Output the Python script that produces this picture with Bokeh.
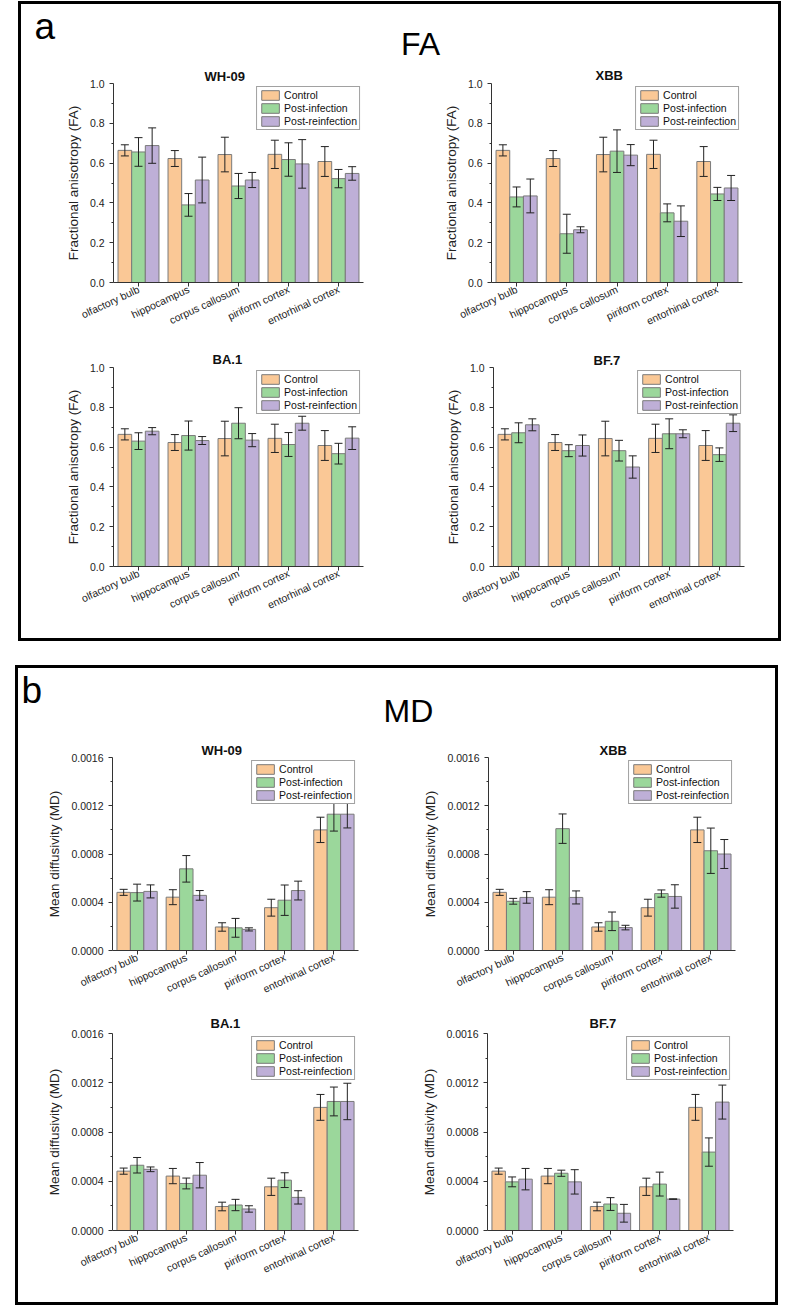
import math
from bokeh.plotting import figure
from bokeh.layouts import column, row
from bokeh.models import (FactorRange, Range1d, FixedTicker, NumeralTickFormatter, Whisker,
                          TeeHead, ColumnDataSource, Legend, LegendItem, Spacer, Label)
from bokeh.transform import dodge
from bokeh.embed import file_html
from bokeh.resources import INLINE

FONT = "Liberation Sans"

# ---------------- data ----------------
categories = ["olfactory bulb", "hippocampus", "corpus callosum", "piriform cortex", "entorhinal cortex"]
series = ["Control", "Post-infection", "Post-reinfection"]
colors = ["#FAC896", "#9BD79B", "#BEAFD7"]

# Fractional anisotropy (FA)
fa_control = [0.664, 0.623, 0.643, 0.644, 0.608]
fa_control_err = [0.028, 0.040, 0.087, 0.071, 0.075]

fa_wh09_inf = [0.656, 0.390, 0.485, 0.618, 0.522]
fa_wh09_inf_err = [0.072, 0.057, 0.063, 0.084, 0.046]
fa_wh09_re = [0.688, 0.515, 0.515, 0.596, 0.548]
fa_wh09_re_err = [0.089, 0.115, 0.038, 0.122, 0.034]

fa_xbb_inf = [0.430, 0.245, 0.660, 0.350, 0.445]
fa_xbb_inf_err = [0.050, 0.098, 0.107, 0.045, 0.033]
fa_xbb_re = [0.435, 0.265, 0.640, 0.308, 0.475]
fa_xbb_re_err = [0.085, 0.015, 0.053, 0.077, 0.063]

fa_ba1_inf = [0.630, 0.658, 0.720, 0.613, 0.567]
fa_ba1_inf_err = [0.042, 0.073, 0.078, 0.060, 0.052]
fa_ba1_re = [0.680, 0.633, 0.635, 0.720, 0.645]
fa_ba1_re_err = [0.018, 0.020, 0.033, 0.035, 0.057]

fa_bf7_inf = [0.672, 0.582, 0.582, 0.667, 0.562]
fa_bf7_inf_err = [0.050, 0.030, 0.052, 0.075, 0.034]
fa_bf7_re = [0.712, 0.608, 0.500, 0.667, 0.720]
fa_bf7_re_err = [0.030, 0.053, 0.056, 0.020, 0.042]

# Mean diffusivity (MD)
md_control = [0.000482, 0.000442, 0.000195, 0.000355, 0.001000]
md_control_err = [0.000025, 0.000062, 0.000035, 0.000070, 0.000105]

md_wh09_inf = [0.000480, 0.000677, 0.000188, 0.000417, 0.001130]
md_wh09_inf_err = [0.000070, 0.000110, 0.000078, 0.000126, 0.000140]
md_wh09_re = [0.000490, 0.000457, 0.000175, 0.000497, 0.001130]
md_wh09_re_err = [0.000054, 0.000040, 0.000013, 0.000078, 0.000114]

md_xbb_inf = [0.000408, 0.001010, 0.000242, 0.000472, 0.000827]
md_xbb_inf_err = [0.000024, 0.000122, 0.000077, 0.000030, 0.000188]
md_xbb_re = [0.000440, 0.000440, 0.000190, 0.000448, 0.000800]
md_xbb_re_err = [0.000048, 0.000054, 0.000019, 0.000097, 0.000120]

md_ba1_inf = [0.000530, 0.000382, 0.000207, 0.000409, 0.001048]
md_ba1_inf_err = [0.000063, 0.000044, 0.000046, 0.000060, 0.000117]
md_ba1_re = [0.000497, 0.000449, 0.000175, 0.000269, 0.001048]
md_ba1_re_err = [0.000019, 0.000103, 0.000026, 0.000054, 0.000148]

md_bf7_inf = [0.000395, 0.000465, 0.000215, 0.000377, 0.000637]
md_bf7_inf_err = [0.000040, 0.000025, 0.000052, 0.000097, 0.000115]
md_bf7_re = [0.000417, 0.000395, 0.000140, 0.000255, 0.001043]
md_bf7_re_err = [0.000087, 0.000099, 0.000072, 0.000002, 0.000138]

fa_ticks = [0.0, 0.2, 0.4, 0.6, 0.8, 1.0]
fa_minor = [0.1, 0.3, 0.5, 0.7, 0.9]
md_ticks = [0.0, 0.0004, 0.0008, 0.0012, 0.0016]
md_minor = [0.0002, 0.0006, 0.0010, 0.0014]

BAR_W = 0.273
OFFSETS = [-BAR_W, 0.0, BAR_W]


def subplot(title, vals, errs, ylabel, ymax, ticks, minor, fmt,
            width, height, left, right, top, bottom, title_off, title_standoff):
    p = figure(x_range=FactorRange(factors=categories, range_padding=0, factor_padding=0),
               y_range=Range1d(0, ymax), width=width, height=height,
               min_border_left=left, min_border_right=right,
               min_border_top=top, min_border_bottom=bottom,
               output_backend="svg", toolbar_location=None)
    p.outline_line_color = None
    p.xgrid.visible = False
    p.ygrid.visible = False
    p.background_fill_color = "white"
    p.border_fill_color = "white"

    items = []
    for name, v, e, off, col in zip(series, vals, errs, OFFSETS, colors):
        src = ColumnDataSource(dict(cat=categories, val=v,
                                    upper=[a + b for a, b in zip(v, e)],
                                    lower=[a - b for a, b in zip(v, e)]))
        r = p.vbar(x=dodge("cat", off, range=p.x_range), top="val", width=BAR_W,
                   source=src, fill_color=col, line_color="#7a7a7a", line_width=1)
        w = Whisker(base=dodge("cat", off, range=p.x_range), upper="upper", lower="lower",
                    source=src, line_color="#222222", line_width=1, level="annotation",
                    upper_head=TeeHead(size=8, line_color="#222222", line_width=1),
                    lower_head=TeeHead(size=8, line_color="#222222", line_width=1))
        p.add_layout(w)
        items.append(LegendItem(label=name, renderers=[r]))

    leg = Legend(items=items, location="top_right", border_line_color="#444444",
                 border_line_width=1, background_fill_color="white", background_fill_alpha=1,
                 label_text_font=FONT, label_text_font_size="10.5px", label_text_color="#111111",
                 glyph_width=22, glyph_height=12, label_height=12, spacing=1, padding=2,
                 margin=3, label_standoff=3)
    p.add_layout(leg)

    p.title.text = title
    p.title.align = "left"
    p.title.offset = title_off
    p.title.standoff = title_standoff
    p.title.text_font = FONT
    p.title.text_font_size = "13px"
    p.title.text_font_style = "bold"
    p.title.text_color = "#111111"

    xa = p.xaxis[0]
    xa.major_label_orientation = math.radians(25)
    xa.major_label_text_font = FONT
    xa.major_label_text_font_size = "10.5px"
    xa.major_label_text_color = "#222222"
    xa.major_label_standoff = 2
    xa.axis_line_color = "#333333"
    xa.major_tick_line_color = "#333333"
    xa.major_tick_out = 4
    xa.major_tick_in = 0

    ya = p.yaxis[0]
    ya.ticker = FixedTicker(ticks=ticks, minor_ticks=minor)
    ya.formatter = NumeralTickFormatter(format=fmt)
    ya.axis_label = ylabel
    ya.axis_label_text_font = FONT
    ya.axis_label_text_font_style = "normal"
    ya.axis_label_text_font_size = "13.5px"
    ya.axis_label_text_color = "#222222"
    ya.axis_label_standoff = 6
    ya.major_label_text_font = FONT
    ya.major_label_text_font_size = "10.5px"
    ya.major_label_text_color = "#222222"
    ya.major_label_standoff = 5
    ya.axis_line_color = "#333333"
    ya.major_tick_line_color = "#333333"
    ya.minor_tick_line_color = "#333333"
    ya.major_tick_out = 4
    ya.major_tick_in = 0
    ya.minor_tick_out = 2
    ya.minor_tick_in = 0
    return p


def header(w, h, letter, lx, ly, lsize, word, wx, wy, wsize):
    p = figure(width=w, height=h, x_range=Range1d(0, w), y_range=Range1d(0, h),
               min_border=0, toolbar_location=None, output_backend="svg", title=None,
               x_axis_location=None, y_axis_location=None)
    p.grid.visible = False
    p.outline_line_color = None
    p.add_layout(Label(x=lx, y=ly, text=letter, text_font=FONT, text_font_size=lsize,
                       text_baseline="bottom", text_align="left", text_color="black"))
    p.add_layout(Label(x=wx, y=wy, text=word, text_font=FONT, text_font_size=wsize,
                       text_baseline="bottom", text_align="center", text_color="black"))
    return p


def strip(w, h):
    return Spacer(width=w, height=h, styles={"background-color": "black"})


def panel(head, r1, r2):
    inner = column(head, row(*r1), row(*r2))
    return column(strip(763, 3), row(strip(3, 634), inner, strip(3, 634)), strip(763, 3))


FA_LAB = "Fractional anisotropy (FA)"
MD_LAB = "Mean diffusivity (MD)"

# panel a: header 60, row1 280, row2 294
fa_wh = subplot("WH-09", [fa_control, fa_wh09_inf, fa_wh09_re],
                [fa_control_err, fa_wh09_inf_err, fa_wh09_re_err], FA_LAB, 1.0, fa_ticks, fa_minor,
                "0.0", 400, 280, 92, 58, 18, 62, 91, 0)
fa_xbb = subplot("XBB", [fa_control, fa_xbb_inf, fa_xbb_re],
                 [fa_control_err, fa_xbb_inf_err, fa_xbb_re_err], FA_LAB, 1.0, fa_ticks, fa_minor,
                 "0.0", 357, 280, 70, 36, 18, 62, 104, 2)
fa_ba1 = subplot("BA.1", [fa_control, fa_ba1_inf, fa_ba1_re],
                 [fa_control_err, fa_ba1_inf_err, fa_ba1_re_err], FA_LAB, 1.0, fa_ticks, fa_minor,
                 "0.0", 400, 294, 92, 58, 22, 72, 99, 2)
fa_bf7 = subplot("BF.7", [fa_control, fa_bf7_inf, fa_bf7_re],
                 [fa_control_err, fa_bf7_inf_err, fa_bf7_re_err], FA_LAB, 1.0, fa_ticks, fa_minor,
                 "0.0", 357, 294, 72, 34, 23, 71, 100, 0)

# panel b: header 61, row1 281, row2 292
md_wh = subplot("WH-09", [md_control, md_wh09_inf, md_wh09_re],
                [md_control_err, md_wh09_inf_err, md_wh09_re_err], MD_LAB, 0.0016, md_ticks, md_minor,
                "0.0000", 400, 281, 94, 60, 23, 60, 89, 0)
md_xbb = subplot("XBB", [md_control, md_xbb_inf, md_xbb_re],
                 [md_control_err, md_xbb_inf_err, md_xbb_re_err], MD_LAB, 0.0016, md_ticks, md_minor,
                 "0.0000", 357, 281, 70, 40, 28, 54, 111, 0)
md_ba1 = subplot("BA.1", [md_control, md_ba1_inf, md_ba1_re],
                 [md_control_err, md_ba1_inf_err, md_ba1_re_err], MD_LAB, 0.0016, md_ticks, md_minor,
                 "0.0000", 400, 292, 94, 60, 22, 72, 98, 6)
md_bf7 = subplot("BF.7", [md_control, md_bf7_inf, md_bf7_re],
                 [md_control_err, md_bf7_inf_err, md_bf7_re_err], MD_LAB, 0.0016, md_ticks, md_minor,
                 "0.0000", 357, 292, 69, 42, 22, 72, 102, 5)

head_a = header(757, 60, "a", 13, 17.5, "37px", "FA", 399, 2.2, "32px")
head_b = header(757, 61, "b", 3, 18.5, "37px", "MD", 390, 0.5, "32px")

panel_a = panel(head_a, [fa_wh, fa_xbb], [fa_ba1, fa_bf7])
panel_b = panel(head_b, [md_wh, md_xbb], [md_ba1, md_bf7])

page = column(Spacer(width=10, height=1),
              row(Spacer(width=18, height=640), panel_a),
              Spacer(width=10, height=24),
              row(Spacer(width=15, height=640), panel_b))

open("out.html", "w").write(file_html(page, INLINE))
